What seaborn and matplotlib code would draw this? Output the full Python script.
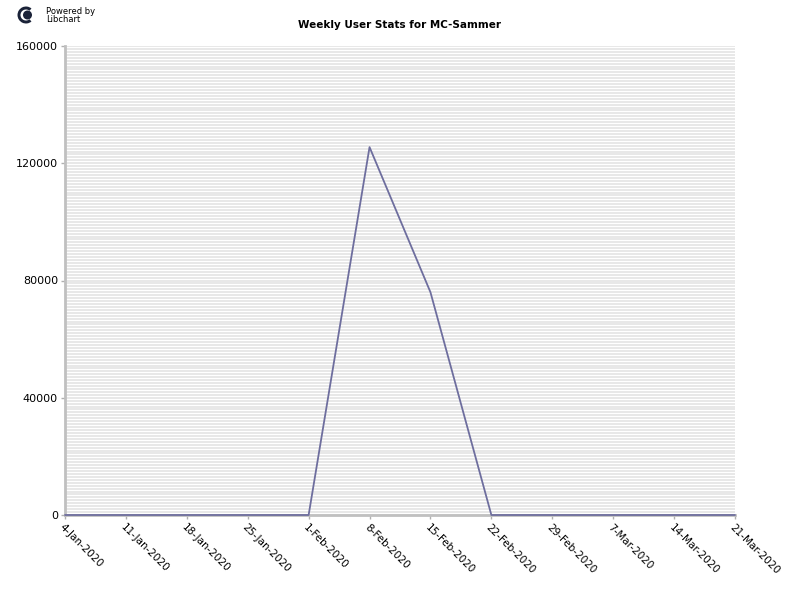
# -*- coding: utf-8 -*-

import matplotlib
matplotlib.use('Agg')
import matplotlib.pyplot as plt
import matplotlib.patches as mpatches
import seaborn as sns
import numpy as np
import pandas as pd

## chart data
weeks = ['4-Jan-2020', '11-Jan-2020', '18-Jan-2020', '25-Jan-2020', '1-Feb-2020',
         '8-Feb-2020', '15-Feb-2020', '22-Feb-2020', '29-Feb-2020', '7-Mar-2020',
         '14-Mar-2020', '21-Mar-2020']
users = [0, 0, 0, 0, 0, 125500, 76000, 0, 0, 0, 0, 0]
y_ticks = [0, 40000, 80000, 120000, 160000]
title = 'Weekly User Stats for MC-Sammer'

df = pd.DataFrame({'week': np.arange(len(weeks)), 'users': users})

sns.set_style('white')
plt.rcParams['font.family'] = ['DejaVu Sans']
plt.rcParams['text.color'] = 'black'
plt.rcParams['xtick.color'] = 'black'
plt.rcParams['ytick.color'] = 'black'

fig = plt.figure(figsize=(8, 6), dpi=100)
ax = fig.add_axes([65 / 800, 85 / 600, 670 / 800, 469 / 600])

# striped libchart background
for yv in np.arange(0, 160001, 1000):
	ax.axhline(yv, color='#e4e4e4', linewidth=1.2, zorder=0)

sns.lineplot(x='week', y='users', data=df, ax=ax, color='#6e6e9e', linewidth=1.3,
	zorder=5, clip_on=False)

ax.set_xlim(0, len(weeks) - 1)
ax.set_ylim(0, 160000)
ax.set_xlabel('')
ax.set_ylabel('')
ax.set_xticks(df['week'])
ax.set_xticklabels(weeks, rotation=-45, ha='left', va='top', rotation_mode='anchor', fontsize=7.5)
ax.set_yticks(y_ticks)
ax.set_yticklabels([str(v) for v in y_ticks], fontsize=8)
ax.tick_params(axis='both', length=3, color='#b0b0b0', width=1, pad=2, bottom=True, left=True)

for side in ['top', 'right']:
	ax.spines[side].set_visible(False)
for side in ['left', 'bottom']:
	ax.spines[side].set_color('#c0c0c0')
	ax.spines[side].set_linewidth(2)

fig.text(400 / 800, 1 - 25 / 600, title, ha='center', va='center', fontsize=7.5, fontweight='bold')

# "Powered by Libchart" logo, drawn in pixel units
logo = fig.dpi_scale_trans
cx, cy = 26 / 100, (600 - 15) / 100
fig.patches.append(mpatches.Wedge((cx, cy), 0.085, 50, 310, width=0.03, transform=logo,
	facecolor='#1a2238', edgecolor='none'))
fig.patches.append(mpatches.Circle((cx + 0.015, cy), 0.045, transform=logo,
	facecolor='#1a2238', edgecolor='none'))
fig.text(46 / 800, 1 - 11 / 600, 'Powered by', fontsize=6, va='center', ha='left')
fig.text(46 / 800, 1 - 20 / 600, 'Libchart', fontsize=6, va='center', ha='left')

fig.savefig('out.png', dpi=100)
